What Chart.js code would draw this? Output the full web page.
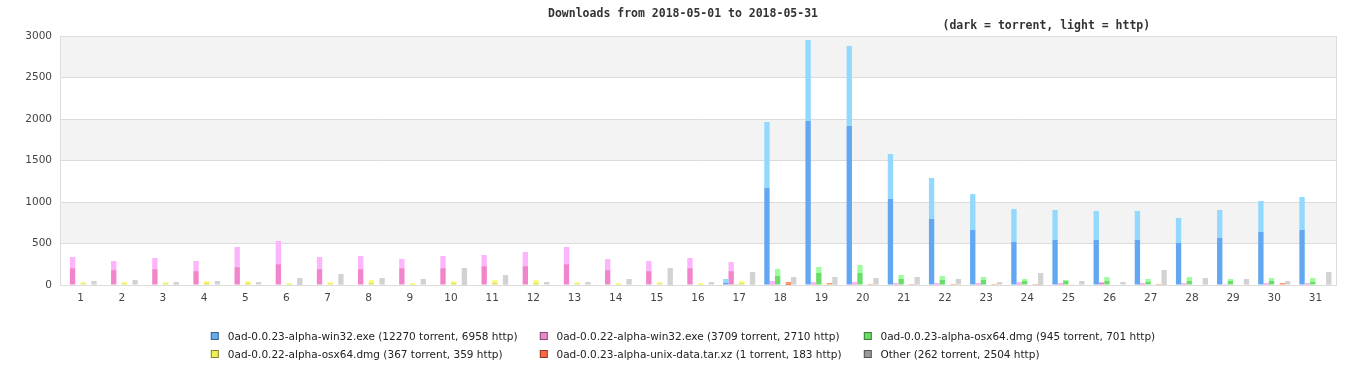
<!DOCTYPE html>
<html>
<head>
<meta charset="utf-8">
<script src="https://cdn.jsdelivr.net/npm/chart.js@4/dist/chart.umd.min.js"></script>
<style>
  body { margin: 0; background: #fff; }
  #wrap { position: relative; width: 1366px; height: 380px; }
  #legend {
    position: absolute; top: 327px; left: 50%; transform: translateX(-50%);
    border-collapse: collapse; font: 10.5px "DejaVu Sans", sans-serif; color: #222;
    white-space: nowrap;
  }
  #legend td { height: 18px; padding: 0 22px 0 0; vertical-align: middle; }
  #legend td:last-child { padding-right: 0; }
  #legend .box {
    display: inline-block; width: 6px; height: 6px; border: 1px solid rgba(0,0,0,0.45);
    margin-right: 9px; vertical-align: middle; position: relative; top: -1px;
  }
</style>
</head>
<body>
<div id="wrap">
  <canvas id="chart" width="1366" height="380"></canvas>
  <table id="legend"></table>
</div>
<script>
// days of May 2018
const days = ['1','2','3','4','5','6','7','8','9','10','11','12','13','14','15','16',
              '17','18','19','20','21','22','23','24','25','26','27','28','29','30','31'];

const fileNames = [
  '0ad-0.0.23-alpha-win32.exe',
  '0ad-0.0.22-alpha-win32.exe',
  '0ad-0.0.23-alpha-osx64.dmg',
  '0ad-0.0.22-alpha-osx64.dmg',
  '0ad-0.0.23-alpha-unix-data.tar.xz',
  'Other'
];
const torrentTotals = [12270, 3709, 945, 367, 1, 262];
const httpTotals = [6958, 2710, 701, 359, 183, 2504];

// per day values (torrent = dark, http = light)
const win23Torrent = [0,0,0,0,0,0,0,0,0,0,0,0,0,0,0,0,24,1169,1976,1916,1036,795,663,518,542,542,542,506,566,639,663];
const win23Http    = [0,0,0,0,0,0,0,0,0,0,0,0,0,0,0,0,48,795,976,964,542,494,433,398,362,350,350,301,338,373,397];

const win22Torrent = [203,179,191,167,215,251,191,191,203,203,227,227,251,179,167,203,167,12,12,12,12,12,12,12,12,24,12,12,6,12,12];
const win22Http    = [134,110,134,122,243,279,146,158,110,146,134,171,207,134,122,122,110,36,24,24,12,12,12,24,12,12,12,12,6,12,12];

const osx23Torrent = [0,0,0,0,0,0,0,0,0,0,0,0,0,0,0,0,6,108,145,145,72,60,60,48,48,48,36,48,48,48,36];
const osx23Http    = [0,0,0,0,0,0,0,0,0,0,0,0,0,0,0,0,6,85,72,96,48,48,36,24,12,48,36,48,24,36,48];

const osx22Torrent = [18,18,18,24,24,12,18,30,12,24,30,30,18,12,18,12,24,0,6,0,0,0,0,0,6,0,0,0,0,0,0];
const osx22Http    = [18,18,18,24,24,12,18,30,12,24,30,30,18,12,18,12,24,0,6,0,0,0,0,0,6,0,0,0,0,0,0];

const unixTorrent = [0,0,0,0,0,0,0,0,0,0,0,0,0,0,0,0,0,1,0,0,0,0,0,0,0,0,0,0,0,0,0];
const unixHttp    = [0,0,0,0,0,0,0,0,0,0,0,0,0,0,0,0,0,36,24,12,12,12,12,12,0,0,12,0,0,24,0];

const otherTorrent = [8,6,10,8,6,12,10,8,6,14,10,6,8,8,12,6,10,8,10,8,8,6,6,12,8,6,12,8,8,8,10];
const otherHttp    = [40,54,26,40,30,72,123,76,66,191,110,30,28,64,193,30,147,88,86,76,88,66,30,133,40,30,169,76,64,40,147];

const darkColors  = ['#62a7f1', '#f184cb', '#68de68', '#e4e44e', '#e86a3c', '#a6a6a6'];
const lightColors = ['#93d9fd', '#fdb4fc', '#9efc9e', '#fbfb84', '#fd9866', '#d2d2d2'];
const legendColors = ['#66aaee', '#ee88cc', '#66dd66', '#eeee55', '#ff6644', '#999999'];

const torrentSeries = [win23Torrent, win22Torrent, osx23Torrent, osx22Torrent, unixTorrent, otherTorrent];
const httpSeries = [win23Http, win22Http, osx23Http, osx22Http, unixHttp, otherHttp];

const datasets = [];
fileNames.forEach((name, i) => {
  datasets.push({ label: name + ' torrent', data: torrentSeries[i], stack: 's' + i,
                  backgroundColor: darkColors[i], borderWidth: 0 });
  datasets.push({ label: name + ' http', data: httpSeries[i], stack: 's' + i,
                  backgroundColor: lightColors[i], borderWidth: 0 });
});

// grey bands behind the bars, right border, titles
const decor = {
  id: 'decor',
  beforeDraw(chart) {
    const { ctx, chartArea: a, scales: { y } } = chart;
    ctx.save();
    ctx.fillStyle = '#f3f3f3';
    const ticks = y.ticks.map(t => t.value);
    for (let i = 1; i < ticks.length; i += 2) {
      const top = y.getPixelForValue(Math.min(ticks[i] + 500, 3000));
      const bot = y.getPixelForValue(ticks[i]);
      ctx.fillRect(a.left, top, a.right - a.left, bot - top);
    }
    ctx.restore();
  },
  afterDraw(chart) {
    const { ctx, chartArea: a } = chart;
    ctx.save();
    ctx.strokeStyle = '#dcdcdc';
    ctx.lineWidth = 1;
    ctx.beginPath();
    ctx.moveTo(Math.round(a.right) + 0.5, a.top);
    ctx.lineTo(Math.round(a.right) + 0.5, a.bottom);
    ctx.stroke();
    ctx.fillStyle = '#333';
    ctx.font = 'bold 11.5px "DejaVu Sans Mono", monospace';
    ctx.textAlign = 'center';
    ctx.textBaseline = 'middle';
    ctx.fillText('Downloads from 2018-05-01 to 2018-05-31', chart.width / 2, 14);
    ctx.fillText('(dark = torrent, light = http)', a.left + (a.right - a.left) * 0.773, 26);
    ctx.restore();
  }
};

const tickFont = { family: 'DejaVu Sans', size: 10.5 };

new Chart(document.getElementById('chart').getContext('2d'), {
  type: 'bar',
  data: { labels: days, datasets: datasets },
  options: {
    responsive: false,
    animation: false,
    layout: { padding: { top: 36, right: 30, bottom: 70, left: 0 } },
    datasets: { bar: { categoryPercentage: 0.78, barPercentage: 1 } },
    plugins: { legend: { display: false }, tooltip: { enabled: false }, title: { display: false } },
    scales: {
      x: {
        grid: { display: false, drawTicks: false },
        border: { color: '#dcdcdc' },
        ticks: { color: '#444', font: tickFont, padding: 7, maxRotation: 0, autoSkip: false },
        afterFit(scale) { scale.height = 25; }
      },
      y: {
        stacked: true,
        min: 0, max: 3000,
        grid: { color: '#dcdcdc', drawTicks: false },
        border: { color: '#dcdcdc' },
        ticks: { stepSize: 500, color: '#444', font: tickFont, padding: 8, callback: v => String(v) },
        afterFit(scale) { scale.width = 60; }
      }
    }
  },
  plugins: [decor]
});

// legend: 2 rows x 3 columns
const legend = document.getElementById('legend');
for (let r = 0; r < 2; r++) {
  const tr = document.createElement('tr');
  for (let c = 0; c < 3; c++) {
    const i = r * 3 + c;
    const td = document.createElement('td');
    const box = document.createElement('span');
    box.className = 'box';
    box.style.background = legendColors[i];
    td.appendChild(box);
    td.appendChild(document.createTextNode(fileNames[i] + ' (' + torrentTotals[i] + ' torrent, ' + httpTotals[i] + ' http)'));
    tr.appendChild(td);
  }
  legend.appendChild(tr);
}
</script>
</body>
</html>
